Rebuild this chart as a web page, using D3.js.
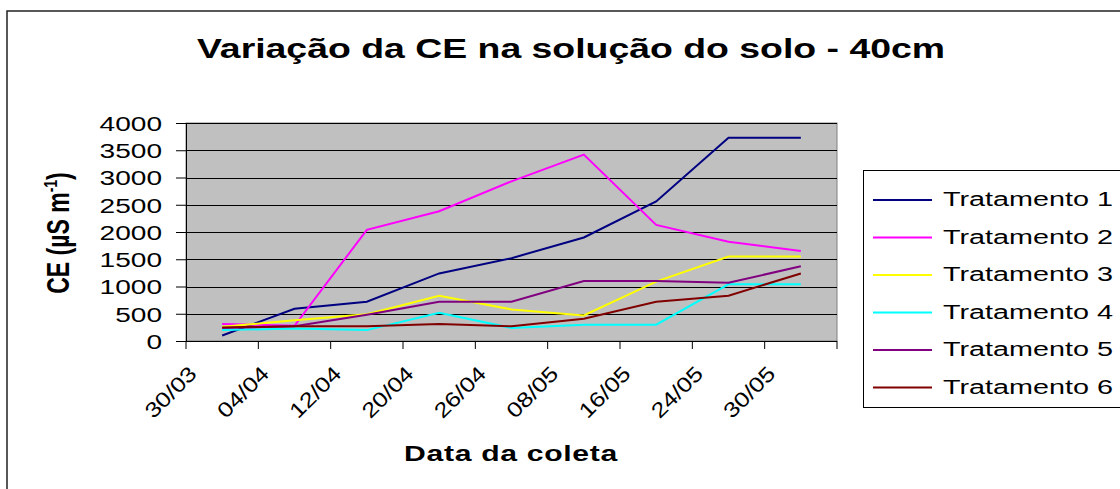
<!DOCTYPE html>
<html>
<head>
<meta charset="utf-8">
<script src="https://cdn.jsdelivr.net/npm/d3@7"></script>
<style>
  body{margin:0;background:#fff;}
  text{font-family:"Liberation Sans",Arial,sans-serif;fill:#000;}
</style>
</head>
<body>
<svg id="chart" width="1120" height="489"></svg>
<script>
// data
var dates=["30/03","04/04","12/04","20/04","26/04","08/05","16/05","24/05","30/05"];
var yTicks=[0,500,1000,1500,2000,2500,3000,3500,4000];
var seriesNames=["Tratamento 1","Tratamento 2","Tratamento 3","Tratamento 4","Tratamento 5","Tratamento 6"];
var trat1=[100,590,720,1240,1520,1900,2560,3730,3730];
var trat2=[310,280,2040,2380,2930,3420,2130,1820,1650];
var trat3=[260,380,490,830,580,470,1090,1550,1550];
var trat4=[200,230,200,520,240,300,300,1040,1040];
var trat5=[240,270,480,720,720,1100,1100,1070,1370];
var trat6=[250,270,270,310,270,410,720,830,1240];
var seriesColors=["#000080","#ff00ff","#ffff00","#00ffff","#800080","#800000"];

var allSeries=[trat1,trat2,trat3,trat4,trat5,trat6];
var sx=1.37;   // the whole picture is stretched horizontally

var svg=d3.select("#chart");
var plot={left:186,right:837,top:123,bottom:341};

// outer frame
svg.append("rect")
  .attr("x",7).attr("y",11).attr("width",1200).attr("height",600)
  .attr("fill","none").attr("stroke","#222").attr("stroke-width",1.5);

var x=d3.scaleBand().domain(d3.range(dates.length)).range([plot.left,plot.right]).padding(0);
var y=d3.scaleLinear().domain([0,4000]).range([plot.bottom,plot.top]);

// plot background
svg.append("rect")
  .attr("x",plot.left).attr("y",plot.top)
  .attr("width",plot.right-plot.left).attr("height",plot.bottom-plot.top)
  .attr("fill","#c0c0c0").attr("stroke","#808080").attr("stroke-width",1);

// gridlines
svg.append("g").selectAll("line")
  .data(yTicks.filter(function(d){return d>0;}))
  .enter().append("line")
    .attr("x1",plot.left).attr("x2",plot.right)
    .attr("y1",function(d){return Math.round(y(d))+0.5;})
    .attr("y2",function(d){return Math.round(y(d))+0.5;})
    .attr("stroke","#000").attr("stroke-width",1);

// y axis
var yAxis=svg.append("g")
  .attr("transform","translate("+plot.left+",0)")
  .call(d3.axisLeft(y).tickValues(yTicks).tickFormat(d3.format("d")).tickSize(10).tickSizeOuter(0));
yAxis.select(".domain").attr("stroke","#000");
yAxis.selectAll(".tick line").attr("stroke","#000");
yAxis.selectAll(".tick text")
  .attr("x",-24/sx).attr("dy","0.36em")
  .attr("transform","scale("+sx+",1)")
  .style("font-size","20.5px").style("font-family","'Liberation Sans',Arial,sans-serif");

// x axis
var xAxis=svg.append("g");
xAxis.append("line")
  .attr("x1",plot.left).attr("x2",plot.right)
  .attr("y1",plot.bottom+0.5).attr("y2",plot.bottom+0.5)
  .attr("stroke","#000");
var tickPos=dates.map(function(d,i){return x(i);}).concat([plot.right]);
xAxis.selectAll(".xtick").data(tickPos).enter().append("line")
  .attr("class","xtick")
  .attr("x1",function(d){return d;}).attr("x2",function(d){return d;})
  .attr("y1",plot.bottom).attr("y2",plot.bottom+8)
  .attr("stroke","#000");
xAxis.selectAll(".xlabel").data(dates).enter().append("text")
  .attr("class","xlabel")
  .attr("text-anchor","end")
  .attr("font-size","21px")
  .attr("transform",function(d,i){return "translate("+(x(i)+12)+","+(plot.bottom+34)+") rotate(-45) scale(1.2,1)";})
  .text(function(d){return d;});

// lines
var line=d3.line()
  .x(function(d,i){return x(i)+x.bandwidth()/2;})
  .y(function(d){return y(d);});
svg.append("g").selectAll("path")
  .data(allSeries)
  .enter().append("path")
    .attr("d",line)
    .attr("fill","none")
    .attr("stroke",function(d,i){return seriesColors[i];})
    .attr("stroke-width",2);

// title
svg.append("text")
  .attr("text-anchor","middle")
  .attr("font-weight","bold").attr("font-size","27.3px")
  .attr("transform","translate(571,58) scale("+sx+",1)")
  .text("Variação da CE na solução do solo - 40cm");

// axis titles
svg.append("text")
  .attr("text-anchor","middle")
  .attr("font-weight","bold").attr("font-size","22px")
  .attr("letter-spacing","0.5px")
  .attr("transform","translate(511,461) scale("+sx+",1)")
  .text("Data da coleta");

var yTitle=svg.append("text")
  .attr("text-anchor","middle")
  .attr("font-weight","bold").attr("font-size","23px")
  .attr("transform","translate(69,233) scale("+sx+",1) rotate(-90)");
yTitle.append("tspan").text("CE (µS m");
yTitle.append("tspan").attr("font-size","14px").attr("dy","-9").text("-1");
yTitle.append("tspan").attr("dy","9").text(")");

// legend
var legend=svg.append("g");
legend.append("rect")
  .attr("x",863.5).attr("y",170.5).attr("width",400).attr("height",237)
  .attr("fill","#fff").attr("stroke","#000").attr("stroke-width",1);
var rows=legend.selectAll(".row").data(seriesNames).enter().append("g")
  .attr("class","row")
  .attr("transform",function(d,i){return "translate(0,"+(200+37.5*i)+")";});
rows.append("line")
  .attr("x1",873).attr("x2",932).attr("y1",0).attr("y2",0)
  .attr("stroke",function(d,i){return seriesColors[i];})
  .attr("stroke-width",2);
rows.append("text")
  .attr("font-size","21px")
  .attr("transform","translate(943,6) scale("+sx+",1)")
  .text(function(d){return d;});
</script>
</body>
</html>
